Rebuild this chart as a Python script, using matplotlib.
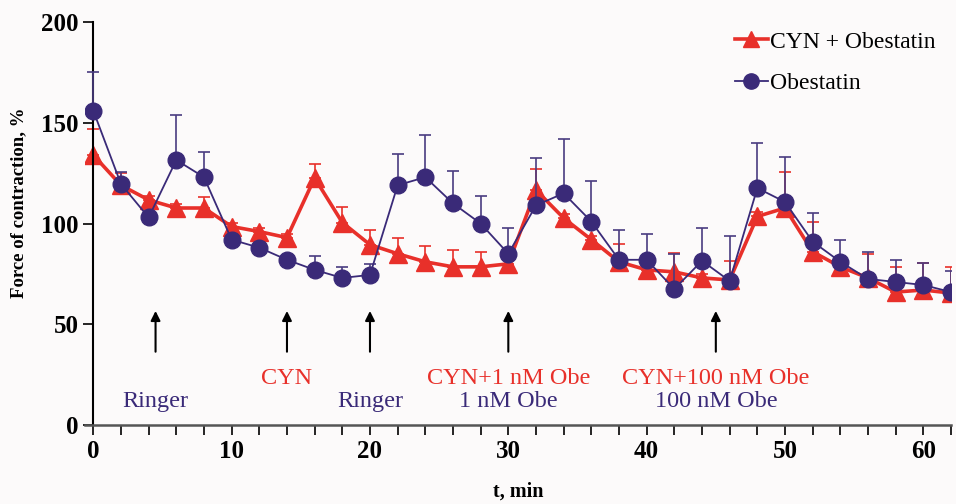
import matplotlib.pyplot as plt
from matplotlib.lines import Line2D
import numpy as np

# time points, min
t = list(range(0, 63, 2))

# CYN + Obestatin (red triangles)
cyn_obe = [134, 119, 111.7, 107.7, 107.7, 98.5, 96, 93, 122.6, 100.5, 89.5, 85,
           81, 78.5, 78.5, 80, 116.6, 102.7, 92, 81, 77, 76, 73, 72,
           103.5, 107.7, 86, 78.5, 73, 66, 67, 65.5]
cyn_obe_err = [13, 6, 2, 2, 5.3, 2, 2, 2, 7, 7.5, 7.5, 8,
               8, 8.5, 7.5, 2, 10.4, 2, 2, 9, 2, 9.5, 2, 9.5,
               2, 18, 14.7, 2, 12, 12.5, 13.5, 13]

# Obestatin (blue circles)
obe = [156, 119.6, 103, 131.5, 123, 92, 88, 82, 77, 73, 74.5, 119,
       123, 110, 100, 85, 109, 115, 101, 82, 82, 67.5, 81.5, 71.5,
       117.6, 110.7, 91, 81, 72.5, 71, 69.5, 66]
obe_err = [19, 6, 2, 22.5, 12.5, 2, 2, 2, 7, 5.5, 5.5, 15.5,
           21, 16, 13.6, 13, 23.5, 27, 20, 15, 13, 17.5, 16.5, 22.5,
           22.4, 22.3, 14, 11, 13.5, 11, 11, 10.6]

# treatment arrows and labels
arrow_x = [4.5, 14, 20, 30, 45]
red_labels = [(14, 'CYN'), (30, 'CYN+1 nM Obe'), (45, 'CYN+100 nM Obe')]
blue_labels = [(4.5, 'Ringer'), (20, 'Ringer'), (30, '1 nM Obe'), (45, '100 nM Obe')]

RED = '#e8302a'
BLUE = '#3a2a78'

plt.rcParams['font.family'] = ['Liberation Serif', 'DejaVu Serif']

fig = plt.figure(figsize=(9.56, 5.04), dpi=100, facecolor='#fcfafa')
ax = fig.add_axes([85 / 956, 0.1567, 866 / 956, 0.7996])
ax.set_facecolor('#fcfafa')

ax.errorbar(t, obe, yerr=[np.zeros(len(obe)), obe_err], color=BLUE, lw=1.3,
            marker='o', ms=12, capsize=4, elinewidth=1.2, capthick=1.2,
            ecolor='#4a3c80', zorder=3)
ax.errorbar(t, cyn_obe, yerr=[np.zeros(len(cyn_obe)), cyn_obe_err], color=RED, lw=2.6,
            marker='^', ms=13, capsize=4, elinewidth=1.2, capthick=1.2, zorder=2)

for x in arrow_x:
    ax.annotate('', xy=(x, 58), xytext=(x, 35),
                arrowprops=dict(arrowstyle='-|>', color='black', lw=1.5,
                                mutation_scale=14))
for x, s in red_labels:
    ax.text(x, 23, s, color=RED, fontsize=17.5, ha='center', va='center')
for x, s in blue_labels:
    ax.text(x, 11.5, s, color=BLUE, fontsize=17.5, ha='center', va='center')

ax.set_xlim(-0.6, 62)
ax.set_ylim(0, 200)
ax.spines['left'].set_position(('data', 0))
ax.set_xticks(range(0, 61, 10))
ax.set_xticks(range(0, 63, 2), minor=True)
ax.set_yticks(range(0, 201, 50))
ax.tick_params(axis='both', which='major', labelsize=18, length=7, width=1.2)
ax.tick_params(axis='x', which='minor', length=7, width=1.2)
for lab in ax.get_xticklabels() + ax.get_yticklabels():
    lab.set_fontweight('bold')
for side in ['top', 'right']:
    ax.spines[side].set_visible(False)
ax.spines['left'].set_linewidth(1.5)
ax.spines['bottom'].set_linewidth(1.8)
ax.spines['bottom'].set_color('#555555')

ax.set_xlabel('t, min', fontsize=14.5, fontweight='bold', labelpad=14)
fig.text(19 / 956, 1 - 203 / 504, 'Force of contraction, %', fontsize=13.5,
         fontweight='bold', rotation=90, ha='center', va='center')

handles = [Line2D([], [], color=RED, lw=2.6, marker='^', ms=12),
           Line2D([], [], color=BLUE, lw=1.3, marker='o', ms=11)]
ax.legend(handles, ['CYN + Obestatin', 'Obestatin'], loc='upper right', frameon=False,
          fontsize=17, handlelength=1.4, handletextpad=0.1, labelspacing=0.85,
          bbox_to_anchor=(1.007, 1.03))

fig.savefig('out.png', dpi=100, facecolor=fig.get_facecolor())
